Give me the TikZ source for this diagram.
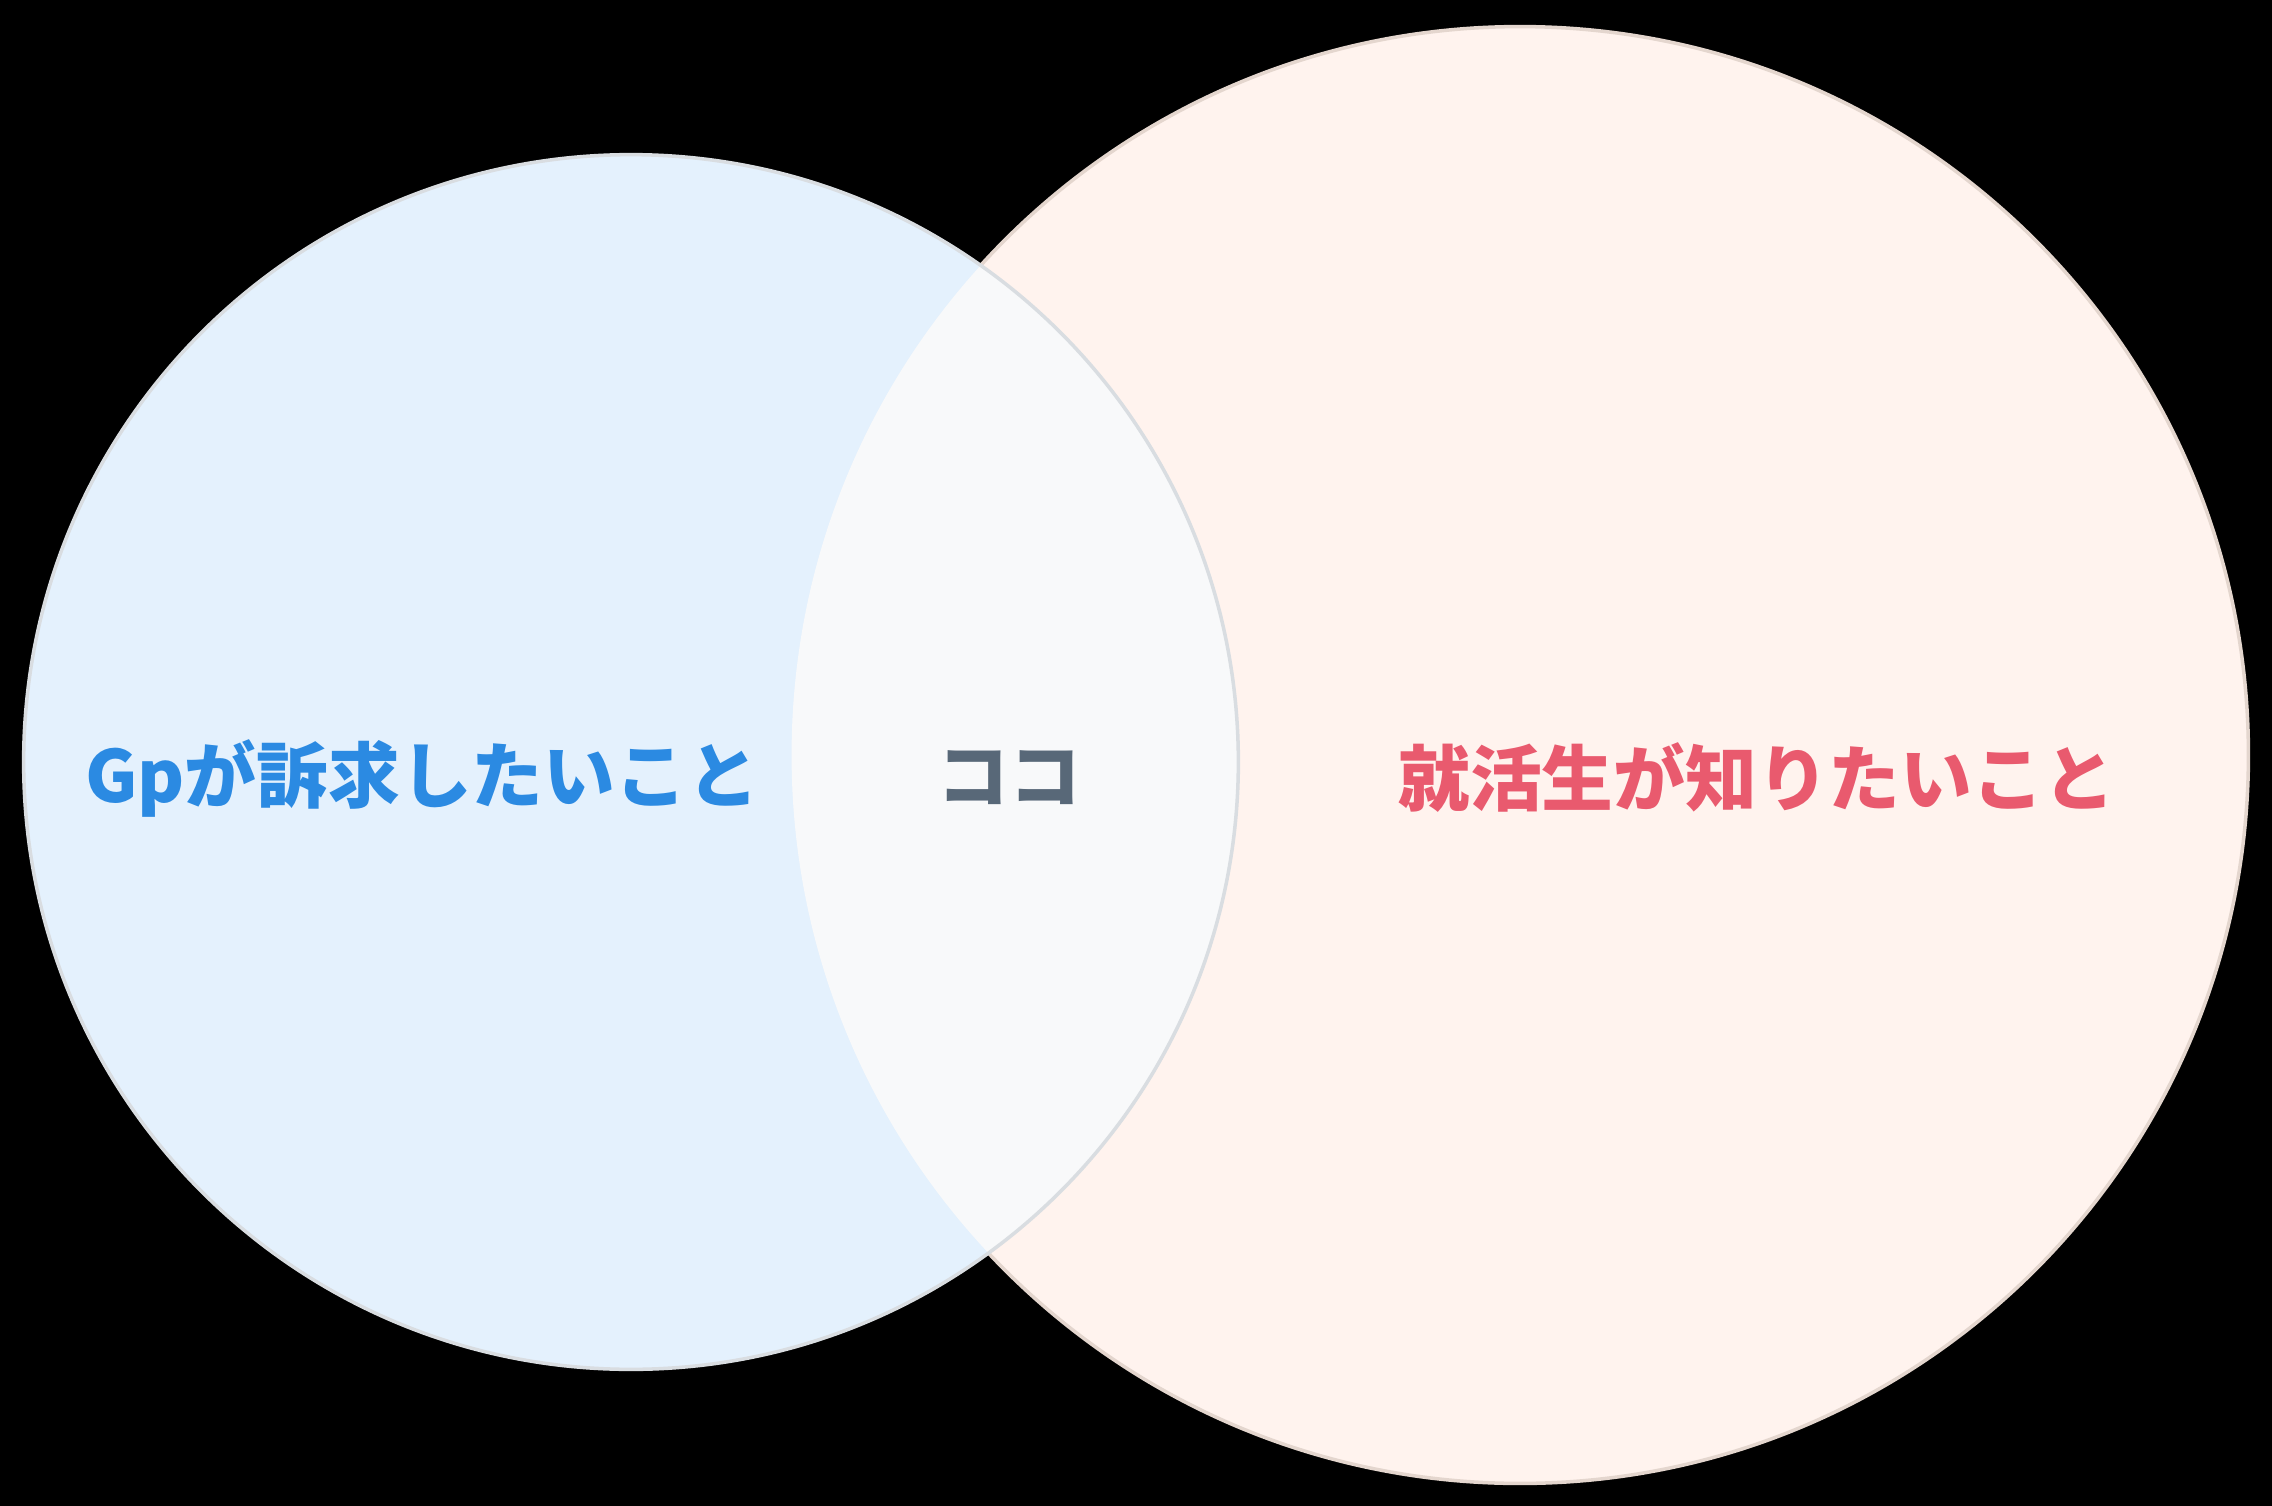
\documentclass[tikz,border=0pt]{standalone}
\usepackage{fontspec}
\setmainfont{Noto Sans CJK JP}[BoldFont={* Black}]
\usepackage{tikz}

\definecolor{gpfill}{HTML}{E4F1FD}
\definecolor{stufill}{HTML}{FFF3EE}
\definecolor{cocofill}{HTML}{F8F9FA}
\definecolor{rimgray}{HTML}{D9DDE1}
\definecolor{rimpeach}{HTML}{E4D6CE}
\definecolor{gpblue}{HTML}{2B8AE2}
\definecolor{stured}{HTML}{E95A6E}
\definecolor{cocogray}{HTML}{586878}

\begin{document}
\begin{tikzpicture}[x=0.01cm,y=-0.01cm,
  every node/.style={font=\bfseries\fontsize{20.4}{24}\selectfont},
  rim/.style={line width=1pt}]

\useasboundingbox [fill=black] (0,0) rectangle (2272,1506);

% right circle, then left one
\draw [rim,rimpeach,fill=stufill] (1520,755) circle [radius=7.28cm];
\fill [gpfill] (631,762) circle [radius=6.07cm];

% overlap
\begin{scope}
\clip (631,762) circle [radius=6.07cm];
\fill [cocofill] (1520,755) circle [radius=7.28cm];
\end{scope}
\draw [rim,rimgray] (631,762) circle [radius=6.07cm];

\node [gpblue] (gp) at (422,778) {Gpが訴求したいこと};
\node [cocogray] (coco) at (1009,778) {ココ};
\node [stured] (stu) at (1757,778) {就活生が知りたいこと};

\end{tikzpicture}
\end{document}
